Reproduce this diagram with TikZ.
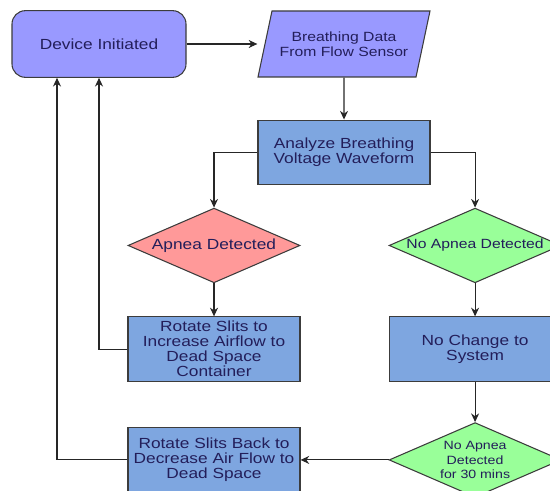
\documentclass[tikz,border=0pt]{standalone}
\usepackage{fontspec}
\setmainfont{Liberation Sans}[FakeStretch=1.18]
\usetikzlibrary{arrows.meta,positioning,shapes.geometric}
\definecolor{lavender}{RGB}{153,153,255}
\definecolor{boxblue}{RGB}{126,166,224}
\definecolor{pinkred}{RGB}{255,153,153}
\definecolor{lightgreen}{RGB}{153,255,153}
\definecolor{navytext}{RGB}{35,30,90}
\definecolor{edgegray}{RGB}{60,60,60}
\begin{document}
\begin{tikzpicture}[
    node distance=24pt,
    base/.style={draw=edgegray,line width=0.8pt,text=navytext,align=center,inner sep=1pt},
    start/.style={base,rectangle,rounded corners=10pt,fill=lavender,minimum width=130.5pt,minimum height=50pt,font=\fontsize{11}{13}\selectfont},
    io/.style={base,trapezium,trapezium left angle=63,trapezium right angle=117,trapezium stretches body,fill=lavender,minimum width=129pt,minimum height=49.5pt,inner xsep=-10pt,font=\fontsize{10}{11.25}\selectfont},
    box/.style={base,rectangle,fill=boxblue,minimum width=129pt,minimum height=48.5pt,font=\fontsize{11}{11.25}\selectfont},
    dec/.style={base,diamond,aspect=2.3,inner sep=0pt,minimum width=129pt,minimum height=56pt,font=\fontsize{10}{12}\selectfont},
    arrow/.style={-{Stealth[length=6.5pt,width=6pt]},line width=0.8pt,draw=black!85}
]
\clip (0,0) rectangle (412.5pt,-368.25pt);

\node[start] (dev) at (74.25pt,-33pt) {Device Initiated};
\node[io] (data) at (258pt,-33pt) {Breathing Data\\From Flow Sensor};
\node[box,below=31.5pt of data] (ana) {Analyze Breathing\\Voltage Waveform};

\node[dec,fill=pinkred,below=16.75pt of ana,xshift=-97.5pt,font=\fontsize{11}{12}\selectfont] (apn) {Apnea Detected};
\node[dec,fill=lightgreen,right=66pt of apn] (nap) {No Apnea Detected};

\node[box,below=24.75pt of apn] (rot1) {Rotate Slits to\\Increase Airflow to\\Dead Space\\Container};
\node[box,below=24.75pt of nap] (nochg) {No Change to\\System};
\node[dec,fill=lightgreen,below=30pt of nochg,font=\fontsize{9}{11}\selectfont] (nap30) {No Apnea\\Detected\\for 30 mins};
\node[box,left=66pt of nap30] (rot2) {Rotate Slits Back to\\Decrease Air Flow to\\Dead Space};

\coordinate[left=31.5pt of dev.south] (back);

\draw[arrow] (dev) -- (dev -| data.bottom left corner);
\draw[arrow] (data) -- (ana);
\draw[arrow] (ana) -| (apn);
\draw[arrow] (ana) -| (nap);
\draw[arrow] (apn) -- (rot1);
\draw[arrow] (nap) -- (nochg);
\draw[arrow] (nochg) -- (nap30);
\draw[arrow] (nap30) -- (rot2);
\draw[arrow] (rot1) -| (dev);
\draw[arrow] (rot2) -| (back);
\end{tikzpicture}
\end{document}
